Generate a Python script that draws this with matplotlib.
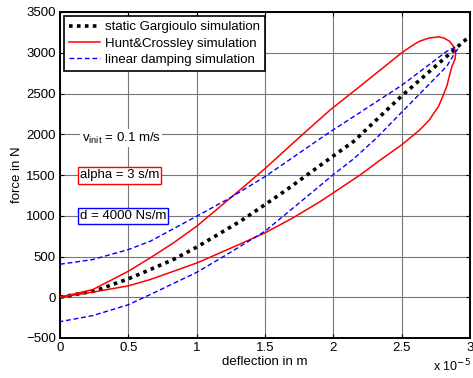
import matplotlib
matplotlib.use("Agg")
import matplotlib.pyplot as plt

plt.rcParams['font.family'] = ['Liberation Sans', 'DejaVu Sans']

# deflection in units of 1e-5 m, force in N
x_static = [0, 0.25, 0.5, 0.66, 0.83, 1.0, 1.32, 1.5, 1.66, 1.98, 2.15, 2.5, 2.9, 3.05]
f_static = [0, 75, 226, 340, 463, 615, 933, 1137, 1321, 1710, 1914, 2470, 3060, 3280]

# Hunt&Crossley loop: loading branch then unloading branch
x_hc = [0, 0.24, 0.5, 0.66, 0.83, 1.0, 1.32, 1.5, 1.78, 1.98, 2.15, 2.5, 2.57, 2.63,
        2.7, 2.77, 2.81, 2.85, 2.875, 2.89, 2.895, 2.89, 2.878, 2.868, 2.85, 2.83, 2.8,
        2.77, 2.7, 2.63, 2.5, 2.34, 2.2, 1.9, 1.7, 1.5, 1.32, 1.07, 1.0, 0.66, 0.5, 0.24, 0]
f_hc = [0, 94, 319, 483, 667, 871, 1321, 1579, 2005, 2303, 2528, 2999, 3080, 3141,
        3180, 3195, 3180, 3141, 3090, 3039, 2978, 2920, 2870, 2834, 2720, 2589, 2460,
        2344, 2170, 2050, 1870, 1680, 1505, 1170, 970, 790, 655, 470, 420, 217, 140, 63, 0]

# linear damping loop
x_ld = [0, 0.24, 0.5, 0.66, 1.0, 1.24, 1.5, 1.95, 2.5, 2.83, 2.89, 2.91, 2.89, 2.83,
        2.5, 2.32, 2.15, 2.0, 1.9, 1.5, 1.32, 1.2, 1.0, 0.66, 0.5, 0.24, 0]
f_ld = [405, 463, 585, 687, 994, 1215, 1480, 2000, 2600, 3018, 3067, 3045, 2999, 2834,
        2270, 1960, 1700, 1505, 1365, 810, 626, 503, 305, 33, -92, -225, -300]

x_ticks = [0, 0.5, 1, 1.5, 2, 2.5, 3]
x_ticklabels = ['0', '0.5', '1', '1.5', '2', '2.5', '3']
y_ticks = [-500, 0, 500, 1000, 1500, 2000, 2500, 3000, 3500]

fig = plt.figure(figsize=(4.73, 3.78), dpi=100)
ax = fig.add_axes([60 / 473, 40 / 378, 410 / 473, 326 / 378])

ax.plot(x_static, f_static, color='black', linestyle=(0, (1, 1.2)), lw=2.6,
        label='static Gargioulo simulation', zorder=3)
ax.plot(x_hc, f_hc, color='#ff0000', lw=1.1, label='Hunt&Crossley simulation', zorder=4)
ax.plot(x_ld, f_ld, color='#0000ff', lw=1.0, linestyle=(0, (3.5, 2)),
        label='linear damping simulation', zorder=5)

ax.set_xlim(0, 3)
ax.set_ylim(-500, 3500)
ax.set_xticks(x_ticks)
ax.set_xticklabels(x_ticklabels)
ax.set_yticks(y_ticks)
ax.tick_params(direction='in', top=True, right=True, labelsize=9.5, length=3, pad=3)
ax.grid(True, color='#777777', lw=0.8)
for s in ax.spines.values():
    s.set_linewidth(1.4)

ax.set_xlabel('deflection in m', fontsize=9.5, labelpad=1)
ax.set_ylabel('force in N', fontsize=9.5, labelpad=2)
fig.text(471 / 473, 4 / 378, 'x 10$^{-5}$', fontsize=9, ha='right', va='bottom')

leg = ax.legend(loc='upper left', fontsize=9.5, frameon=True, fancybox=False,
                edgecolor='black', framealpha=1, borderpad=0.4, labelspacing=0.3,
                handlelength=2.3, handletextpad=0.4, borderaxespad=0.3)
leg.get_frame().set_linewidth(1.2)

ax.text(0.16, 1950, '$\\mathregular{v_{init}}$ = 0.1 m/s', fontsize=9.5, va='center',
        bbox=dict(facecolor='white', edgecolor='none', pad=1))
ax.text(0.145, 1495, 'alpha = 3 s/m', fontsize=9.5, va='center',
        bbox=dict(facecolor='white', edgecolor='red', pad=1.5, lw=1))
ax.text(0.145, 995, 'd = 4000 Ns/m', fontsize=9.5, va='center',
        bbox=dict(facecolor='white', edgecolor='blue', pad=1.5, lw=1))

fig.savefig('out.png', dpi=100)
